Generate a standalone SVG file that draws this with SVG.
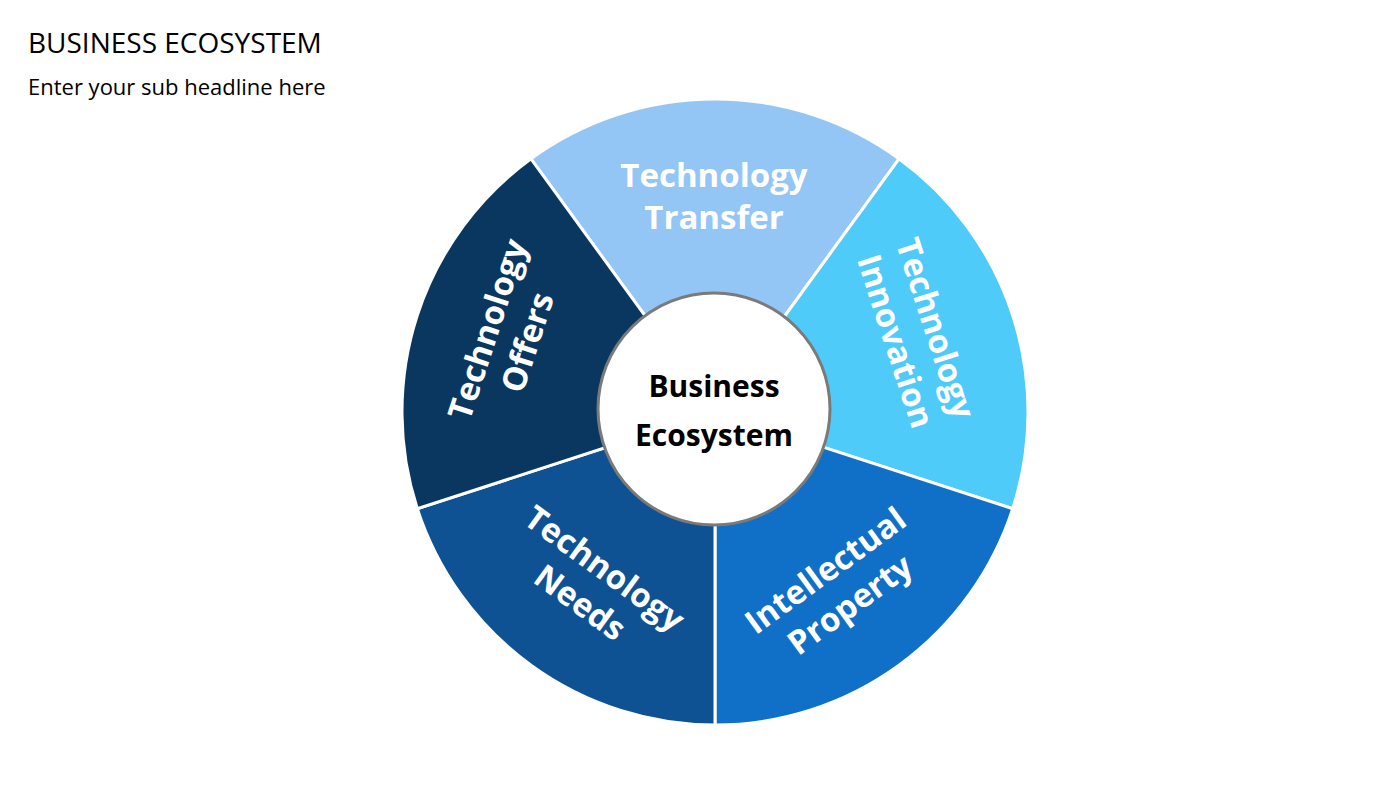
<svg xmlns="http://www.w3.org/2000/svg" width="1400" height="788" viewBox="0 0 1400 788">
<style>
.seg{stroke:#fff;stroke-width:3}
.lbl{font-family:"Open Sans","Liberation Sans",sans-serif;font-weight:bold;font-size:33px;fill:#fff;text-anchor:middle}
.ctr{font-family:"Open Sans","Liberation Sans",sans-serif;font-weight:bold;font-size:30px;fill:#000;text-anchor:middle}
</style>
<rect width="1400" height="788" fill="#fff"/>
<text x="28" y="53" font-family="Open Sans, Liberation Sans, sans-serif" font-size="28" fill="#000">BUSINESS ECOSYSTEM</text>
<text x="28" y="95" font-family="Open Sans, Liberation Sans, sans-serif" font-size="22" fill="#000">Enter your sub headline here</text>
<g id="connectors"></g>
<g id="transfer"><path class="seg" fill="#93C6F4" d="M715,412 L531,158.8 A313,313 0 0 1 899,158.8 Z"/>
<g transform="translate(714,197)"><text class="lbl" y="-10">Technology</text><text class="lbl" y="32">Transfer</text></g></g>
<g id="innovation"><path class="seg" fill="#4FCBFA" d="M715,412 L899,158.8 A313,313 0 0 1 1012.7,508.7 Z"/>
<g transform="translate(915,335) rotate(72)"><text class="lbl" y="-10">Technology</text><text class="lbl" y="32">Innovation</text></g></g>
<g id="ip"><path class="seg" fill="#1070C7" d="M715,412 L1012.7,508.7 A313,313 0 0 1 715,725 Z"/>
<g transform="translate(838,588) rotate(-36)"><text class="lbl" y="-10">Intellectual</text><text class="lbl" y="32">Property</text></g></g>
<g id="needs"><path class="seg" fill="#0F5294" d="M715,412 L715,725 A313,313 0 0 1 417.3,508.7 Z"/>
<g transform="translate(592,586) rotate(36)"><text class="lbl" y="-10">Technology</text><text class="lbl" y="32">Needs</text></g></g>
<g id="offers"><path class="seg" fill="#0A3760" d="M715,412 L417.3,508.7 A313,313 0 0 1 531,158.8 Z"/>
<g transform="translate(508,336) rotate(-72)"><text class="lbl" y="-10">Technology</text><text class="lbl" y="32">Offers</text></g></g>
<g id="center"><circle cx="714" cy="409" r="116" fill="#fff" stroke="#7a7a7a" stroke-width="3"/>
<text class="ctr" x="714" y="397">Business</text><text class="ctr" x="714" y="446">Ecosystem</text></g>
</svg>
